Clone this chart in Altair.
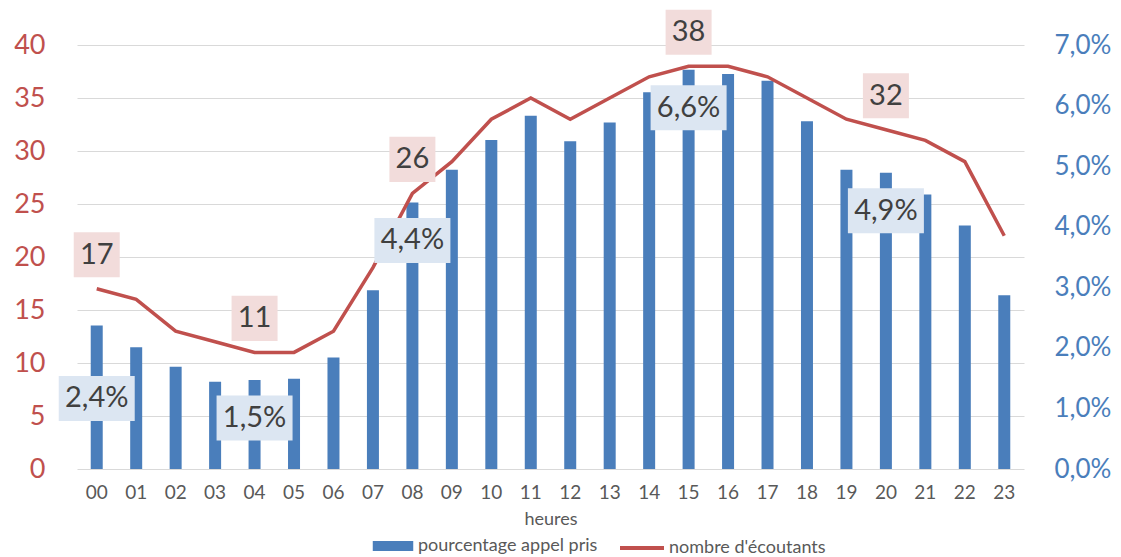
import json
import altair as alt
import pandas as pd

# ---- data ----
hours = ["00", "01", "02", "03", "04", "05", "06", "07", "08", "09", "10", "11",
         "12", "13", "14", "15", "16", "17", "18", "19", "20", "21", "22", "23"]
pct_calls = [2.37, 2.01, 1.69, 1.44, 1.47, 1.49, 1.84, 2.95, 4.40, 4.94, 5.43, 5.83,
             5.41, 5.72, 6.22, 6.59, 6.52, 6.41, 5.74, 4.94, 4.89, 4.53, 4.02, 2.87]
listeners = [17, 16, 13, 12, 11, 11, 13, 19, 26, 29, 33, 35,
             33, 35, 37, 38, 38, 37, 35, 33, 32, 31, 29, 22]
labelled_hours = ["00", "04", "08", "15", "20"]

BAR_NAME = "pourcentage appel pris"
LINE_NAME = "nombre d'écoutants"
X_TITLE = "heures"

BLUE = "#4a7ebb"
RED = "#c0504d"
PINK_BOX = "#f2dcdb"
BLUE_BOX = "#dce6f2"
TXT = "#404040"
GREY = "#595959"
FONT = "Lato"

LEFT_MAX = 40
RIGHT_MAX = 7

df = pd.DataFrame({"hour": hours, "pct": pct_calls, "listeners": listeners})

x_enc = alt.X(
    "hour:O",
    title=X_TITLE,
    sort=hours,
    scale=alt.Scale(paddingInner=0, paddingOuter=0),
    axis=alt.Axis(labelAngle=0, ticks=False, domain=False, grid=False,
                  labelFont=FONT, labelFontSize=19, labelColor=GREY, labelPadding=14,
                  titleFont=FONT, titleFontSize=18, titleColor=GREY,
                  titleFontWeight="normal", titlePadding=8),
)

bar_legend = alt.Legend(
    orient="none", legendX=294, legendY=479, direction="horizontal", title=None,
    padding=0, labelFont=FONT, labelFontSize=18, labelColor=GREY, labelLimit=400,
    symbolType="M-0.92,-0.23H0.92V0.23H-0.92Z", symbolSize=1936,
    symbolStrokeWidth=0, symbolOpacity=1, labelOffset=3,
)
line_legend = alt.Legend(
    orient="none", legendX=541, legendY=479, direction="horizontal", title=None,
    padding=0, labelFont=FONT, labelFontSize=18, labelColor=GREY, labelLimit=400,
    symbolType="stroke", symbolSize=1936, symbolStrokeWidth=4, symbolOpacity=1,
    labelOffset=3,
)

left_axis = alt.Axis(orient="left", values=list(range(0, LEFT_MAX + 1, 5)),
                     grid=True, gridColor="#d9d9d9", gridWidth=1.2,
                     ticks=False, domain=False, labelColor=RED,
                     labelFont=FONT, labelFontSize=27, labelPadding=32, title=None)
left_scale = alt.Scale(domain=[0, LEFT_MAX], nice=False)

base = alt.Chart(df)

bars = base.transform_calculate(series=json.dumps(BAR_NAME)).mark_bar(size=12).encode(
    x=x_enc,
    y=alt.Y("pct:Q", scale=alt.Scale(domain=[0, RIGHT_MAX], nice=False),
            axis=alt.Axis(orient="right", values=list(range(RIGHT_MAX + 1)),
                          labelExpr="replace(format(datum.value, '.1f'), '.', ',') + '%'",
                          grid=False, ticks=False, domain=False, labelColor=BLUE,
                          labelFont=FONT, labelFontSize=26, labelPadding=30, title=None)),
    color=alt.Color("series:N", scale=alt.Scale(domain=[BAR_NAME], range=[BLUE]),
                    legend=bar_legend),
)

line = base.transform_calculate(series=json.dumps(LINE_NAME)).mark_line(strokeWidth=3.5).encode(
    x=x_enc,
    y=alt.Y("listeners:Q", scale=left_scale, axis=left_axis),
    color=alt.Color("series:N", scale=alt.Scale(domain=[LINE_NAME], range=[RED]),
                    legend=line_legend),
)

lab = base.transform_filter(
    alt.FieldOneOfPredicate(field="hour", oneOf=labelled_hours)
).transform_calculate(
    pct_left="datum.pct * %d / %d" % (LEFT_MAX, RIGHT_MAX),
    pct_text="replace(format(datum.pct, '.1f'), '.', ',') + '%'",
)

PINK_PATH = "M-1,-0.98H1V0.98H-1Z"
BLUE_PATH = "M-1,-0.592H1V0.592H-1Z"

y_list = alt.Y("listeners:Q", scale=left_scale, axis=left_axis)
y_pct = alt.Y("pct_left:Q", scale=left_scale, axis=left_axis)

LABEL_SIZE = 29

pink_box = lab.mark_point(shape=PINK_PATH, size=2116, filled=True, color=PINK_BOX,
                          opacity=1, strokeWidth=0, yOffset=-34).encode(x=x_enc, y=y_list)
pink_text = lab.mark_text(font=FONT, fontSize=LABEL_SIZE, color=TXT, baseline="middle",
                          dy=-34).encode(x=x_enc, y=y_list, text="listeners:Q")

lab_main = lab.transform_filter("datum.hour !== '00'")
lab_first = lab.transform_filter("datum.hour === '00'")

blue_box_a = lab_main.mark_point(shape=BLUE_PATH, size=5776, filled=True, color=BLUE_BOX,
                                 opacity=1, strokeWidth=0, yOffset=38).encode(x=x_enc, y=y_pct)
blue_text_a = lab_main.mark_text(font=FONT, fontSize=LABEL_SIZE, color=TXT, baseline="middle",
                                 dy=38).encode(x=x_enc, y=y_pct, text="pct_text:N")
blue_box_b = lab_first.mark_point(shape=BLUE_PATH, size=5776, filled=True, color=BLUE_BOX,
                                  opacity=1, strokeWidth=0, yOffset=73).encode(x=x_enc, y=y_pct)
blue_text_b = lab_first.mark_text(font=FONT, fontSize=LABEL_SIZE, color=TXT, baseline="middle",
                                  dy=73).encode(x=x_enc, y=y_pct, text="pct_text:N")

left_group = alt.layer(line, pink_box, blue_box_a, blue_box_b,
                       pink_text, blue_text_a, blue_text_b)

chart = alt.layer(bars, left_group).resolve_scale(
    y="independent", color="independent"
).properties(
    width=947, height=424,
    padding={"left": 69, "top": 37, "right": 89, "bottom": 88},
    autosize=alt.AutoSizeParams(type="none"),
    background="white",
).configure_view(stroke=None)

chart.save("out.html", embed_options={"renderer": "svg", "actions": False})
